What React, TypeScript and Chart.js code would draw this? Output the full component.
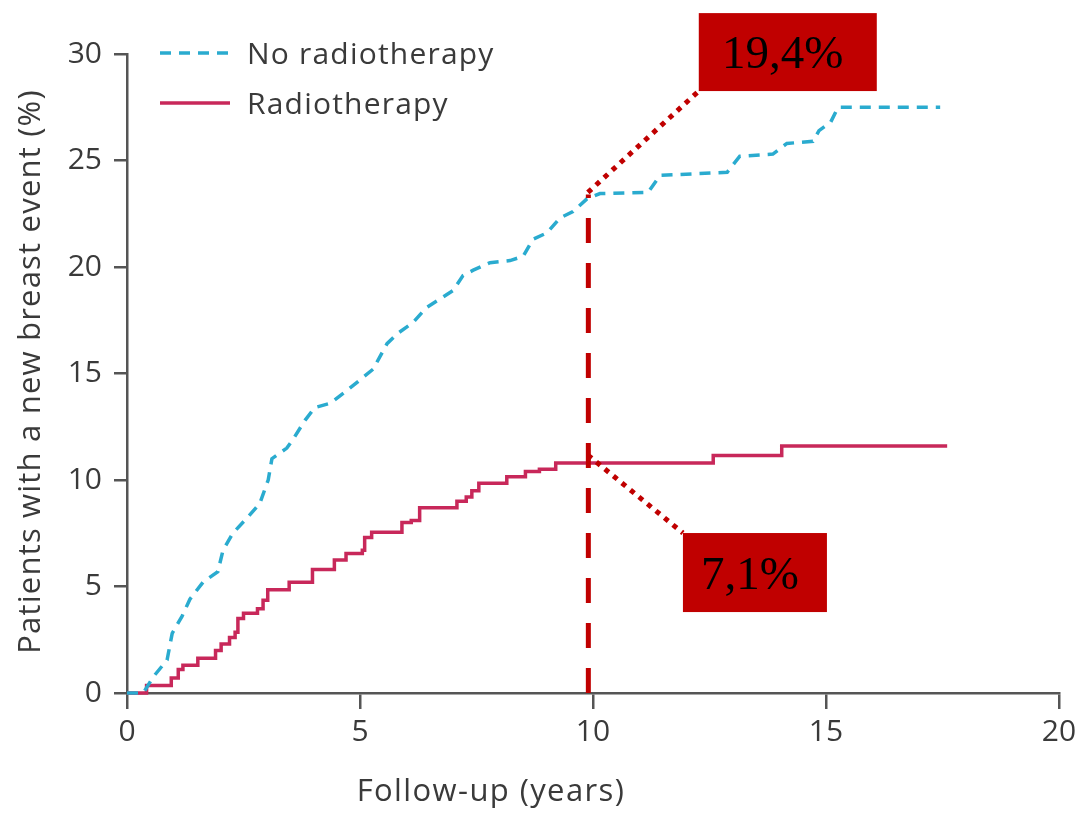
import React, { useEffect, useRef } from "react";
import { Chart, registerables } from "chart.js";

Chart.register(...registerables);

// Cumulative incidence of a new breast event, no radiotherapy arm (years, %)
const noRtYears = [
  0, 0.35, 0.56, 0.86, 0.97, 1.18, 1.35, 1.63, 1.95, 2.06, 2.27, 2.57, 2.85, 3.03, 3.11,
  3.43, 3.56, 3.82, 4.03, 4.36, 4.72, 5.0, 5.28, 5.58, 5.82, 6.14, 6.43, 6.72, 7.0, 7.21,
  7.43, 7.79, 8.22, 8.5, 8.71, 9.01, 9.29, 9.57, 9.87, 10.15, 11.18, 11.44, 12.88, 13.15,
  13.86, 14.16, 14.72, 14.85, 15.1, 15.26, 17.45,
];
const noRtPct = [
  0, 0, 0.75, 1.55, 2.8, 3.6, 4.4, 5.2, 5.7, 6.7, 7.5, 8.2, 8.9, 10.0, 11.0,
  11.5, 11.9, 12.8, 13.4, 13.6, 14.2, 14.7, 15.2, 16.4, 16.9, 17.4, 18.1, 18.5, 18.9, 19.6,
  19.85, 20.2, 20.3, 20.5, 21.3, 21.6, 22.3, 22.6, 23.2, 23.45, 23.5, 24.3, 24.45, 25.2,
  25.3, 25.8, 25.9, 26.4, 26.8, 27.5, 27.5,
];

// Radiotherapy arm: event times and the cumulative value after each step (years, %)
const rtYears = [
  0, 0.42, 0.95, 1.1, 1.2, 1.52, 1.9, 2.02, 2.2, 2.32, 2.38, 2.5, 2.8, 2.92, 3.02, 3.48,
  3.98, 4.45, 4.7, 5.05, 5.1, 5.25, 5.9, 6.1, 6.28, 7.08, 7.28, 7.4, 7.55, 8.15, 8.55,
  8.85, 9.2, 12.58, 14.05, 17.6,
];
const rtPct = [
  0, 0.35, 0.7, 1.1, 1.3, 1.63, 2.0, 2.3, 2.6, 2.85, 3.5, 3.75, 3.95, 4.35, 4.85, 5.2,
  5.8, 6.25, 6.55, 6.7, 7.3, 7.55, 8.0, 8.1, 8.7, 9.0, 9.2, 9.5, 9.85, 10.15, 10.4,
  10.5, 10.8, 11.15, 11.6, 11.6,
];

const seriesNames = ["No radiotherapy", "Radiotherapy"];
const xTicks = [0, 5, 10, 15, 20];
const yTicks = [0, 5, 10, 15, 20, 25, 30];
const xTitle = "Follow-up (years)";
const yTitle = "Patients with a new breast event (%)";

// 10-year marker and the two call-out labels
const markerYear = 9.9;
const markerTop = 23.4;
const calloutTexts = ["19,4%", "7,1%"];
const calloutAnchors = [
  { x: 9.89, y: 23.5 },
  { x: 9.89, y: 11.17 },
];
const calloutBoxes = [
  { x0: 12.27, x1: 16.09, y0: 28.26, y1: 31.92 },
  { x0: 11.93, x1: 15.02, y0: 3.8, y1: 7.51 },
];

const BLUE = "#2aabcf";
const CRIMSON = "#c8285a";
const MARK_RED = "#c00000";
const AXIS = "#555555";
const TEXT = "#3a3a3a";
const SANS = "'Open Sans', sans-serif";

const overlayPlugin = {
  id: "overlay",
  afterDatasetsDraw(chart: any) {
    const { ctx, scales } = chart;
    const xs = scales.x;
    const ys = scales.y;
    const px = (v: number) => xs.getPixelForValue(v);
    const py = (v: number) => ys.getPixelForValue(v);
    ctx.save();

    // dashed vertical marker at ten years
    ctx.strokeStyle = MARK_RED;
    ctx.lineWidth = 5;
    ctx.lineCap = "butt";
    ctx.setLineDash([25, 20]);
    ctx.beginPath();
    ctx.moveTo(px(markerYear), py(0));
    ctx.lineTo(px(markerYear), py(markerTop));
    ctx.stroke();

    // dotted leaders to the call-out boxes
    ctx.setLineDash([5, 6]);
    calloutAnchors.forEach((a, i) => {
      const b = calloutBoxes[i];
      const ty = i === 0 ? b.y0 : b.y1;
      ctx.beginPath();
      ctx.moveTo(px(a.x), py(a.y));
      ctx.lineTo(px(b.x0), py(ty));
      ctx.stroke();
    });
    ctx.setLineDash([]);

    // call-out boxes
    calloutBoxes.forEach((b, i) => {
      const l = px(b.x0);
      const r = px(b.x1);
      const t = py(b.y1);
      const btm = py(b.y0);
      ctx.fillStyle = MARK_RED;
      ctx.fillRect(l, t, r - l, btm - t);
      ctx.fillStyle = "#000000";
      ctx.font = "47px 'Liberation Serif', serif";
      ctx.textAlign = "center";
      ctx.textBaseline = "alphabetic";
      ctx.fillText(calloutTexts[i], (l + r) / 2 - 5, (t + btm) / 2 + 16);
    });
    ctx.restore();
  },
  afterDraw(chart: any) {
    const { ctx, chartArea } = chart;
    ctx.save();

    // legend
    const lx0 = chartArea.left + 33;
    const lx1 = chartArea.left + 103;
    const rows = [
      { y: chartArea.top - 1, color: BLUE, dash: [11, 8] },
      { y: chartArea.top + 49, color: CRIMSON, dash: [] as number[] },
    ];
    ctx.font = `30px ${SANS}`;
    ctx.letterSpacing = "1.2px";
    ctx.textAlign = "left";
    ctx.textBaseline = "middle";
    rows.forEach((row, i) => {
      ctx.strokeStyle = row.color;
      ctx.lineWidth = 3.5;
      ctx.setLineDash(row.dash);
      ctx.beginPath();
      ctx.moveTo(lx0, row.y);
      ctx.lineTo(lx1, row.y);
      ctx.stroke();
      ctx.setLineDash([]);
      ctx.fillStyle = TEXT;
      ctx.fillText(seriesNames[i], chartArea.left + 120, row.y + 2);
    });

    // axis titles
    ctx.fillStyle = TEXT;
    ctx.font = `31px ${SANS}`;
    ctx.letterSpacing = "1.4px";
    ctx.textAlign = "center";
    ctx.textBaseline = "middle";
    ctx.fillText(xTitle, chartArea.left + 364, chartArea.bottom + 99);

    ctx.letterSpacing = "1.2px";
    ctx.translate(31, (chartArea.top + chartArea.bottom) / 2 - 2);
    ctx.rotate(-Math.PI / 2);
    ctx.fillText(yTitle, 0, 0);
    ctx.restore();
  },
};

export default function App() {
  const canvasRef = useRef<HTMLCanvasElement | null>(null);

  useEffect(() => {
    if (!canvasRef.current) return;
    const tickFont = { family: SANS, size: 30 };
    const chart = new Chart(canvasRef.current, {
      type: "line",
      data: {
        datasets: [
          {
            label: seriesNames[0],
            data: noRtYears.map((x, i) => ({ x, y: noRtPct[i] })),
            borderColor: BLUE,
            borderWidth: 3.5,
            borderDash: [11, 8],
            pointRadius: 0,
            tension: 0,
            fill: false,
            clip: 8,
          },
          {
            label: seriesNames[1],
            data: rtYears.map((x, i) => ({ x, y: rtPct[i] })),
            borderColor: CRIMSON,
            borderWidth: 3.5,
            stepped: "before",
            pointRadius: 0,
            fill: false,
            clip: 8,
          },
        ],
      },
      options: {
        animation: false,
        responsive: true,
        maintainAspectRatio: false,
        layout: { padding: { top: 54, right: 24, left: 0, bottom: 0 } },
        plugins: {
          legend: { display: false },
          tooltip: { enabled: false },
        },
        scales: {
          x: {
            type: "linear",
            min: 0,
            max: 20,
            afterBuildTicks: (s: any) => {
              s.ticks = xTicks.map((v) => ({ value: v }));
            },
            ticks: { font: tickFont, color: TEXT, padding: 5 },
            grid: { drawOnChartArea: false, drawTicks: true, tickLength: 16, color: AXIS, lineWidth: 2.5 },
            border: { color: AXIS, width: 2.5 },
            afterFit: (s: any) => {
              s.height = 120;
              s.paddingLeft = 0;
              s.paddingRight = 0;
            },
          },
          y: {
            type: "linear",
            min: 0,
            max: 30,
            afterBuildTicks: (s: any) => {
              s.ticks = yTicks.map((v) => ({ value: v }));
            },
            ticks: { font: tickFont, color: TEXT, padding: 12 },
            grid: { drawOnChartArea: false, drawTicks: true, tickLength: 13, color: AXIS, lineWidth: 2.5 },
            border: { color: AXIS, width: 2.5 },
            afterFit: (s: any) => {
              s.width = 127;
              s.paddingTop = 0;
              s.paddingBottom = 0;
            },
          },
        },
      },
      plugins: [overlayPlugin],
    });
    return () => chart.destroy();
  }, []);

  return (
    <div style={{ position: "absolute", left: 0, top: 0, width: 1083, height: 813 }}>
      <canvas ref={canvasRef} />
    </div>
  );
}
